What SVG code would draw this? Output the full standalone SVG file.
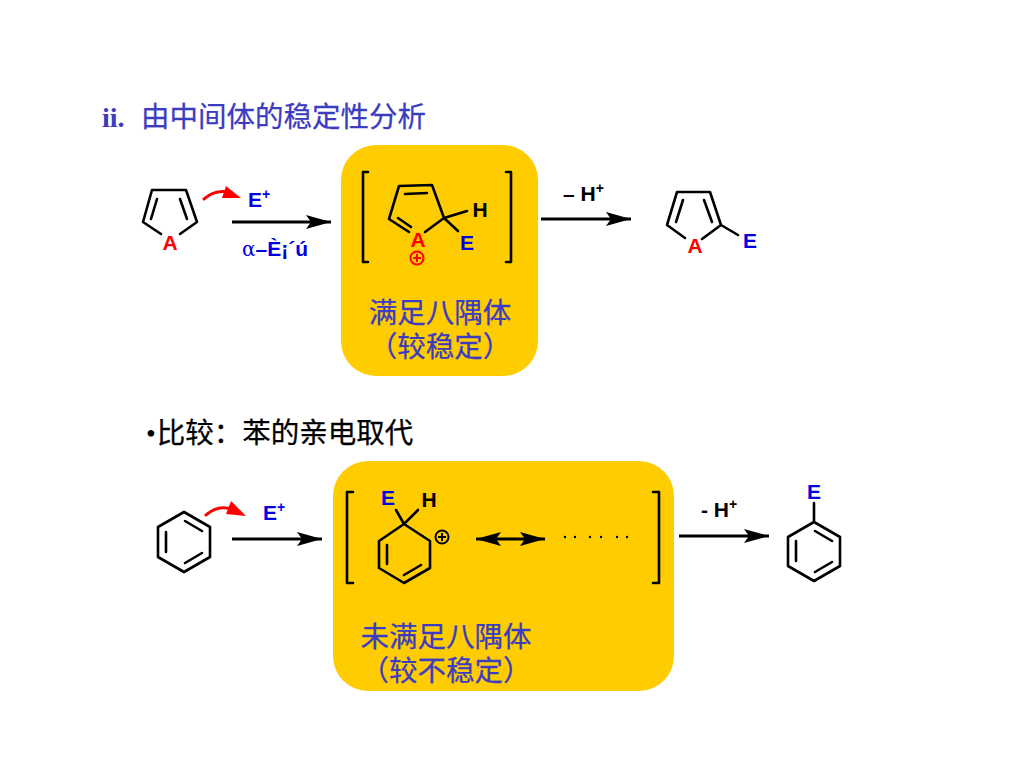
<svg xmlns="http://www.w3.org/2000/svg" width="1024" height="768" viewBox="0 0 1024 768">
<style>
.b{fill:none;stroke:#000;stroke-width:2.6;stroke-linecap:round;stroke-linejoin:round}
.r{fill:none;stroke:#f00;stroke-width:3;stroke-linecap:round}
.l{font-family:"Liberation Sans",Arial,sans-serif;font-weight:700;font-size:21px}
.blue{fill:#0000e0}.red{fill:#f00}.blk{fill:#000}
.sup{font-size:14px}
.cjk{font-family:"Noto Sans CJK SC",sans-serif;font-size:28.5px;font-weight:400;fill:#3c3cc0;stroke:#3c3cc0;stroke-width:.25}
.box{fill:#ffcc00}
.arr{stroke:#000;stroke-width:3;fill:none}
</style>
<defs>
<marker id="ah" markerUnits="userSpaceOnUse" markerWidth="26" markerHeight="14" refX="25" refY="7" orient="auto"><path d="M0 0L25 7L0 14L5 7Z" fill="#000"/></marker>
<marker id="ahs" markerUnits="userSpaceOnUse" markerWidth="26" markerHeight="14" refX="25" refY="7" orient="auto-start-reverse"><path d="M0 0L25 7L0 14L5 7Z" fill="#000"/></marker>
</defs>
<rect width="1024" height="768" fill="#fff"/>
<g id="title"><text x="102" y="127" font-family="'Liberation Serif',serif" font-weight="700" font-size="28" fill="#3c3cc0">ii.</text><text x="141" y="127" class="cjk">由中间体的稳定性分析</text></g>
<g id="box1"><rect class="box" x="341" y="145" width="197" height="231" rx="35"/></g>
<g id="box2"><rect class="box" x="333" y="461" width="341" height="230" rx="35"/></g>
<g id="furan1">
<path class="b" d="M152 190L186 190L197 222L180 234M161 234L143 222L152 190M157 199L151 219M180 199L187 219"/>
<text class="l red" x="170" y="250" text-anchor="middle">A</text>
</g>
<g id="ePlus1"><text class="l blue" x="248" y="207">E<tspan class="sup" dy="-8">+</tspan></text></g>
<g id="reagent"><text class="l blue" x="242" y="256"><tspan font-family="'DejaVu Serif',serif" font-weight="400" font-size="20">α</tspan>–È¡´ú</text></g>
<g id="intermediate1">
<path class="b" d="M368 172H363V262H368M506 172H511V262H506"/>
<path class="b" d="M409 232L389 219L399 186L432 185L444 218L425 232M398 218L411 227M405 194L427 193M444 218L467 211M444 218L458 231"/>
<text class="l red" x="418" y="247" text-anchor="middle">A</text>
<g id="plus1"><circle cx="417" cy="258" r="6.5" fill="none" stroke="#f00" stroke-width="2"/><path d="M417 254V262M413 258H421" stroke="#f00" stroke-width="2"/></g>
<text class="l blk" x="480" y="217" text-anchor="middle">H</text>
<text class="l blue" x="467" y="250" text-anchor="middle">E</text>
</g>
<g id="label1"><text class="cjk" text-anchor="middle"><tspan x="440" y="323">满足八隅体</tspan><tspan x="440" y="357">（较稳定）</tspan></text></g>
<g id="minusH1"><text class="l blk" x="563" y="201">– H<tspan class="sup" dy="-8">+</tspan></text></g>
<g id="furan2">
<path class="b" d="M702 239L721 225L710 192L677 192L667 225L685 238M683 200L676 222M704 200L712 222M721 225L738 235"/>
<text class="l red" x="695" y="253" text-anchor="middle">A</text>
<text class="l blue" x="750" y="248" text-anchor="middle">E</text>
</g>
<g id="compare"><text x="146" y="443" font-family="'Liberation Serif',serif" font-size="28" fill="#000">•<tspan dx="1" class="cjk" style="fill:#000;stroke:#000">比较：苯的亲电取代</tspan></text></g>
<g id="benzene1">
<path class="b" d="M184 512L210 527L210 557L184 572L158 557L158 527Z"/>
<path class="b" d="M166 532V552M185 521L202 531M185 563L202 553"/>
</g>
<g id="ePlus2"><text class="l blue" x="263" y="520">E<tspan class="sup" dy="-8">+</tspan></text></g>
<g id="intermediate2">
<path class="b" d="M353 492H347V583H353M653 492H659V583H653"/>
<path class="b" d="M404 524L430 541L430 568L404 583L379 568L379 541ZM387 545V564M404 575L421 565M404 524L396 510M404 524L418 510"/>
<text class="l blue" x="388" y="505" text-anchor="middle">E</text>
<text class="l blk" x="429" y="507" text-anchor="middle">H</text>
<g id="plus2"><circle cx="442" cy="537" r="6.5" fill="none" stroke="#000" stroke-width="2"/><path d="M442 533V541M438 537H446" stroke="#000" stroke-width="2"/></g>
<path class="arr" d="M476 539H545" marker-start="url(#ahs)" marker-end="url(#ah)"/>
<g fill="#000"><circle cx="565" cy="537" r="1.2"/><circle cx="575" cy="537" r="1.2"/><circle cx="590" cy="537" r="1.2"/><circle cx="601" cy="537" r="1.2"/><circle cx="617" cy="537" r="1.2"/><circle cx="627" cy="537" r="1.2"/></g>
</g>
<g id="label2"><text class="cjk" text-anchor="middle"><tspan x="446" y="647">未满足八隅体</tspan><tspan x="446" y="681">（较不稳定）</tspan></text></g>
<g id="minusH2"><text class="l blk" x="701" y="517">- H<tspan class="sup" dy="-8">+</tspan></text></g>
<g id="benzene2">
<path class="b" d="M814 522L840 537L840 566L814 581L788 566L788 537ZM814 522V503M796 541V561M815 531L832 541M815 572L832 562"/>
<text class="l blue" x="814" y="499" text-anchor="middle">E</text>
</g>
<g id="connectors">
<path class="arr" d="M232 222H331" marker-end="url(#ah)"/>
<path class="arr" d="M541 219H631" marker-end="url(#ah)"/>
<path class="arr" d="M232 539H322" marker-end="url(#ah)"/>
<path class="arr" d="M679 536H769" marker-end="url(#ah)"/>
<path class="r" d="M204 199C212 192 222 190 232 193"/><path d="M226 186L241 198L222 198Z" fill="#f00"/>
<path class="r" d="M206 515C214 508 224 506 234 510"/><path d="M231 501L246 516L226 514Z" fill="#f00"/>
</g>
</svg>
